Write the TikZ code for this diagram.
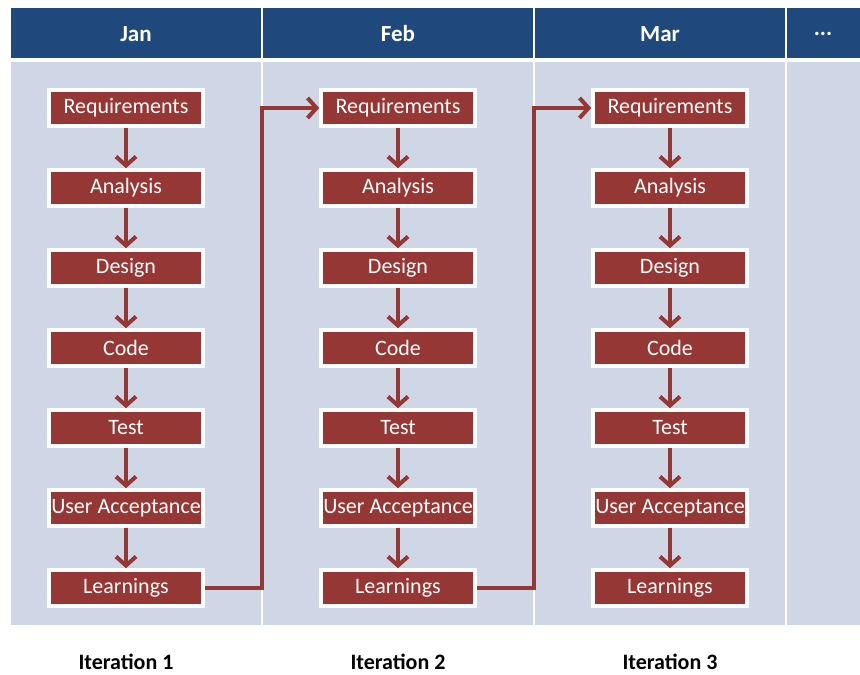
\documentclass[tikz,border=0pt]{standalone}
\usepackage{fontspec}
\setmainfont{Carlito}
\usepackage{xcolor}
\usepackage{tikz}
\usetikzlibrary{arrows.meta,shadows}

\definecolor{hdrblue}{RGB}{31,73,125}
\definecolor{bodyblue}{RGB}{207,214,229}
\definecolor{stepred}{RGB}{149,55,53}

\begin{document}
\begin{tikzpicture}[x=1pt, y=1pt,
    stepbox/.style={fill=stepred, draw=white, line width=3.5pt, text=white,
      minimum width=154pt, minimum height=36pt, inner sep=1pt,
      font=\fontsize{22}{24}\selectfont,
      drop shadow={shadow xshift=1pt, shadow yshift=-1.5pt, opacity=0.3}},
    flow/.style={draw=stepred, line width=4pt,
      -{Straight Barb[length=9pt, width=20pt]}},
    month/.style={text=white, font=\bfseries\fontsize{23}{25}\selectfont},
    iter/.style={font=\bfseries\fontsize{22}{24}\selectfont}]
    \useasboundingbox (0,0) rectangle (860,675);

    % Background and header band
    \fill[bodyblue] (11,50) rectangle (860,613);
    \fill[hdrblue] (11,617) rectangle (860,667);
    \draw[white, line width=1.5pt] (262,50) -- (262,667);
    \draw[white, line width=1.5pt] (534,50) -- (534,667);
    \draw[white, line width=1.5pt] (786,50) -- (786,667);

    % Months
    \node[month] (jan) at (136,641) {Jan};
    \node[month] (feb) at (398,641) {Feb};
    \node[month] (mar) at (660,641) {Mar};
    \node[month] (more) at (823,641) {...};

    % Jan column
    \node[stepbox] (req1) at (126,567) {Requirements};
    \node[stepbox] (ana1) at (126,487) {Analysis};
    \node[stepbox] (des1) at (126,407) {Design};
    \node[stepbox] (code1) at (126,327) {Code};
    \node[stepbox] (test1) at (126,247) {Test};
    \node[stepbox] (ua1) at (126,167) {User Acceptance};
    \node[stepbox] (learn1) at (126,87) {Learnings};

    % Feb column
    \node[stepbox] (req2) at (398,567) {Requirements};
    \node[stepbox] (ana2) at (398,487) {Analysis};
    \node[stepbox] (des2) at (398,407) {Design};
    \node[stepbox] (code2) at (398,327) {Code};
    \node[stepbox] (test2) at (398,247) {Test};
    \node[stepbox] (ua2) at (398,167) {User Acceptance};
    \node[stepbox] (learn2) at (398,87) {Learnings};

    % Mar column
    \node[stepbox] (req3) at (670,567) {Requirements};
    \node[stepbox] (ana3) at (670,487) {Analysis};
    \node[stepbox] (des3) at (670,407) {Design};
    \node[stepbox] (code3) at (670,327) {Code};
    \node[stepbox] (test3) at (670,247) {Test};
    \node[stepbox] (ua3) at (670,167) {User Acceptance};
    \node[stepbox] (learn3) at (670,87) {Learnings};

    % Steps
    \draw[flow] (req1) -- (ana1);
    \draw[flow] (ana1) -- (des1);
    \draw[flow] (des1) -- (code1);
    \draw[flow] (code1) -- (test1);
    \draw[flow] (test1) -- (ua1);
    \draw[flow] (ua1) -- (learn1);

    \draw[flow] (req2) -- (ana2);
    \draw[flow] (ana2) -- (des2);
    \draw[flow] (des2) -- (code2);
    \draw[flow] (code2) -- (test2);
    \draw[flow] (test2) -- (ua2);
    \draw[flow] (ua2) -- (learn2);

    \draw[flow] (req3) -- (ana3);
    \draw[flow] (ana3) -- (des3);
    \draw[flow] (des3) -- (code3);
    \draw[flow] (code3) -- (test3);
    \draw[flow] (test3) -- (ua3);
    \draw[flow] (ua3) -- (learn3);

    % Next iteration
    \draw[flow] (learn1.east) -- ++(57,0) |- (req2.west);
    \draw[flow] (learn2.east) -- ++(57,0) |- (req3.west);

    % Iterations
    \node[iter] (it1) at (126,13) {Iteration 1};
    \node[iter] (it2) at (398,13) {Iteration 2};
    \node[iter] (it3) at (670,13) {Iteration 3};
\end{tikzpicture}
\end{document}
